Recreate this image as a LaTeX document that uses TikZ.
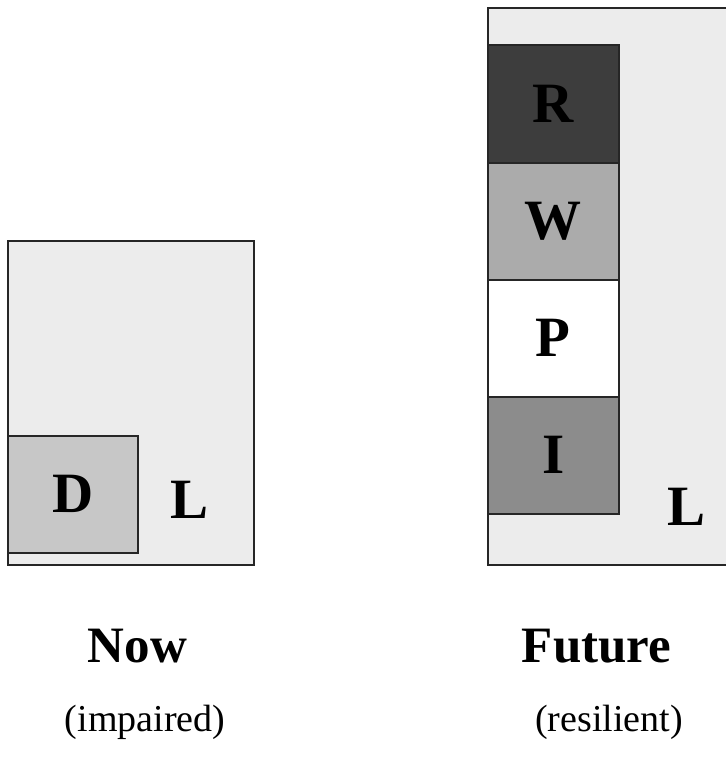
\documentclass[tikz,border=0pt]{standalone}
\usepackage{fontspec}
\setmainfont{Liberation Serif}
\definecolor{landgray}{gray}{0.925}
\definecolor{dgray}{gray}{0.78}
\definecolor{rgray}{gray}{0.24}
\definecolor{wgray}{gray}{0.67}
\definecolor{igray}{gray}{0.55}
\tikzset{
  field/.style={draw=black!85, line width=1.6pt, fill=landgray, rectangle, inner sep=0pt, anchor=north west},
  part/.style={draw=black!85, line width=1.6pt, rectangle, inner sep=0pt, anchor=north west, font=\fontsize{57}{57}\selectfont\bfseries},
  biglabel/.style={font=\fontsize{57}{57}\selectfont\bfseries, inner sep=0pt, anchor=base},
  title/.style={font=\fontsize{51}{51}\selectfont\bfseries, inner sep=0pt, anchor=base},
  subtitle/.style={font=\fontsize{38}{38}\selectfont, inner sep=0pt, anchor=base}
}
\begin{document}
\begin{tikzpicture}[x=1pt,y=-1pt]
\useasboundingbox (0,0) rectangle (726,764);
\clip (0,0) rectangle (726,764);
\fill[white] (0,0) rectangle (726,764);
% Now
\node[field, minimum width=246pt, minimum height=324pt] (nowfield) at (7,240) {};
\node[part, fill=dgray, minimum width=130pt, minimum height=117pt] (D) at (7,435) {D};
\node[biglabel] (Lnow) at (190,518) {L};
% Future
\node[field, minimum width=260pt, minimum height=557pt] (futfield) at (487,7) {};
\node[part, fill=rgray, minimum width=131pt, minimum height=118pt] (R) at (487,44) {R};
\node[part, fill=wgray, minimum width=131pt, minimum height=117pt] (W) at (487,162) {W};
\node[part, fill=white, minimum width=131pt, minimum height=117pt] (P) at (487,279) {P};
\node[part, fill=igray, minimum width=131pt, minimum height=117pt] (I) at (487,396) {I};
\node[biglabel] (Lfut) at (687,525) {L};
% captions
\node[title] (now) at (137.5,662) {Now};
\node[title] (future) at (596.5,662) {Future};
\node[subtitle] (impaired) at (145,731) {(impaired)};
\node[subtitle] (resilient) at (609,731) {(resilient)};
\end{tikzpicture}
\end{document}
